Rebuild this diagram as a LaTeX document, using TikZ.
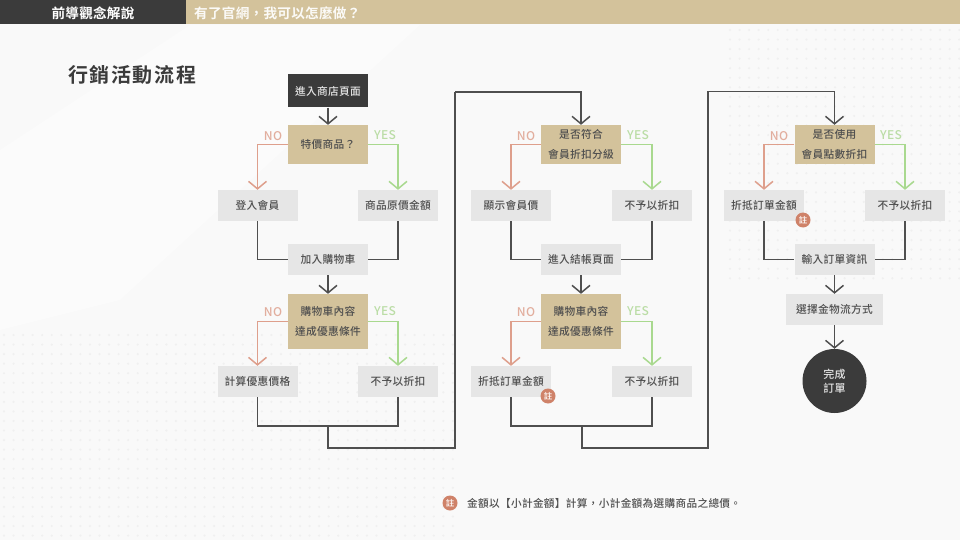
\documentclass[tikz,border=0pt]{standalone}
\usepackage{fontspec}
\usetikzlibrary{arrows.meta}
\setmainfont{Noto Sans CJK TC}
\newfontfamily\boxfont[LetterSpace=3,Script=CJK,Language=Chinese Hong Kong]{Noto Sans CJK TC Medium}
\newfontfamily\headfont[LetterSpace=2,Script=CJK,Language=Chinese Hong Kong]{Noto Sans CJK TC Bold}
\newfontfamily\titlefont[LetterSpace=8,Script=CJK,Language=Chinese Hong Kong]{Noto Sans CJK TC Bold}
\definecolor{darkbox}{HTML}{3B3B3B}
\definecolor{tanbox}{HTML}{D3C29B}
\definecolor{graybox}{HTML}{E6E6E6}
\definecolor{notext}{HTML}{E2AE9E}
\definecolor{noline}{HTML}{DE9F8C}
\definecolor{yestext}{HTML}{BBDDA6}
\definecolor{yesline}{HTML}{A9D98F}
\definecolor{badge}{HTML}{CF8269}
\definecolor{bodytext}{HTML}{4F4F4F}
\tikzset{
    flowbox/.style={minimum width=80pt, inner sep=0pt, align=center, text=bodytext,
        font=\boxfont\fontsize{10.7pt}{19.5pt}\selectfont},
    startbox/.style={flowbox, fill=darkbox, minimum height=33pt, text=white!90!black},
    askbox/.style={flowbox, fill=tanbox, minimum height=39pt},
    askbig/.style={flowbox, fill=tanbox, minimum height=55pt},
    stepbox/.style={flowbox, fill=graybox, minimum height=31pt},
    noteball/.style={circle, fill=badge, minimum size=15pt, inner sep=0pt, text=white,
        font=\boxfont\fontsize{8.5pt}{9pt}\selectfont},
    nolabel/.style={text=notext, font=\boxfont\fontsize{12pt}{13pt}\selectfont},
    yeslabel/.style={text=yestext, font=\boxfont\fontsize{12pt}{13pt}\selectfont},
    flow/.style={draw=darkbox!90, line width=1.5pt},
    flowtip/.style={flow, -{Straight Barb[length=7.5pt, width=18pt, line width=1.5pt]}},
    noarrow/.style={flowtip, draw=noline},
    yesarrow/.style={flowtip, draw=yesline},
}
\begin{document}
\begin{tikzpicture}[x=1pt, y=-1pt]
    \useasboundingbox (0,0) rectangle (960,540);
    % background
    \fill[black!2.5] (0,0) rectangle (960,540);
    \fill[black!1.5] (0,150) -- (190,25) -- (420,25) -- (120,300) -- (0,330) -- cycle;
    \foreach \i in {0,...,47} \foreach \j in {0,...,21}
        \fill[black!6] (4+9.55*\i, 335+9.55*\j) circle (1.2pt);
    \foreach \i in {0,...,24} \foreach \j in {0,...,26}
        \fill[black!6] (730+9.55*\i, 30+9.55*\j) circle (1.2pt);

    % header
    \fill[darkbox] (0,0) rectangle (186,24.5);
    \fill[tanbox] (186,0) rectangle (960,24.5);
    \node[text=white, font=\headfont\fontsize{13.6pt}{14pt}\selectfont] (headleft) at (93,13) {前導觀念解說};
    \node[text=white!92!tanbox, font=\headfont\fontsize{13.6pt}{14pt}\selectfont, anchor=west, inner sep=0pt] (headright) at (194,13) {有了官網，我可以怎麼做？};
    \node[text=darkbox, font=\titlefont\fontsize{20pt}{21pt}\selectfont, anchor=west, inner sep=0pt] (title) at (68,75) {行銷活動流程};

    % first column
    \node[startbox] (enter) at (328,91) {進入商店頁面};
    \node[askbox] (ask1) at (328,144.5) {特價商品？};
    \node[stepbox] (login) at (257.5,205.5) {登入會員};
    \node[stepbox] (origin) at (398,205.5) {商品原價金額};
    \node[stepbox] (cart) at (328,259.5) {加入購物車};
    \node[askbig] (ask2) at (328,321.5) {購物車內容\\達成優惠條件};
    \node[stepbox] (calc) at (257.5,381.5) {計算優惠價格};
    \node[stepbox] (nodisc1) at (398,381.5) {不予以折扣};
    \node[nolabel] (no1) at (273,136) {NO};
    \node[yeslabel] (yes1) at (385,135) {YES};
    \node[nolabel] (no2) at (273,312) {NO};
    \node[yeslabel] (yes2) at (385,311) {YES};
    \coordinate (join1) at (328,426);
    \coordinate (low1) at (455,448);
    \coordinate (high1) at (455,92);

    % second column
    \node[askbox] (ask3) at (581,144.5) {是否符合\\會員折扣分級};
    \node[stepbox] (member) at (511,205.5) {顯示會員價};
    \node[stepbox] (nodisc2) at (652,205.5) {不予以折扣};
    \node[stepbox] (checkout) at (581,259.5) {進入結帳頁面};
    \node[askbig] (ask4) at (581,321.5) {購物車內容\\達成優惠條件};
    \node[stepbox] (deduct1) at (511,381.5) {折抵訂單金額};
    \node[stepbox] (nodisc3) at (652,381.5) {不予以折扣};
    \node[noteball] (note1) at (548,396) {註};
    \node[nolabel] (no3) at (526,136) {NO};
    \node[yeslabel] (yes3) at (638,135) {YES};
    \node[nolabel] (no4) at (526,312) {NO};
    \node[yeslabel] (yes4) at (638,311) {YES};
    \coordinate (join2) at (582,426);
    \coordinate (low2) at (708,448);
    \coordinate (high2) at (708,91.5);

    % third column
    \node[askbox] (ask5) at (834.5,144.5) {是否使用\\會員點數折扣};
    \node[stepbox] (deduct2) at (764,205.5) {折抵訂單金額};
    \node[stepbox] (nodisc4) at (905,205.5) {不予以折扣};
    \node[noteball] (note2) at (803,220) {註};
    \node[stepbox] (info) at (834.5,259.5) {輸入訂單資訊};
    \node[stepbox, minimum width=97pt] (ship) at (834.5,309.5) {選擇金物流方式};
    \node[circle, fill=darkbox, minimum size=64pt, inner sep=0pt, align=center, text=white!90!black, font=\boxfont\fontsize{11pt}{14pt}\selectfont] (done) at (834.5,381) {完成\\訂單};
    \node[nolabel] (no5) at (779,136) {NO};
    \node[yeslabel] (yes5) at (891,135) {YES};

    % arrows of the first column
    \draw[flowtip] (enter) -- (ask1);
    \draw[noarrow] (ask1) -| (login);
    \draw[yesarrow] (ask1) -| (origin);
    \draw[flow] (login) |- (cart);
    \draw[flow] (origin) |- (cart);
    \draw[flowtip] (cart) -- (ask2);
    \draw[noarrow] (ask2) -| (calc);
    \draw[yesarrow] (ask2) -| (nodisc1);
    \draw[flow] (calc) |- (join1) -| (nodisc1);
    \draw[flow] (join1) |- (low1) -- (high1);
    \draw[flowtip] (high1) -| (ask3);

    % arrows of the second column
    \draw[noarrow] (ask3) -| (member);
    \draw[yesarrow] (ask3) -| (nodisc2);
    \draw[flow] (member) |- (checkout);
    \draw[flow] (nodisc2) |- (checkout);
    \draw[flowtip] (checkout) -- (ask4);
    \draw[noarrow] (ask4) -| (deduct1);
    \draw[yesarrow] (ask4) -| (nodisc3);
    \draw[flow] (deduct1) |- (join2) -| (nodisc3);
    \draw[flow] (join2) |- (low2) -- (high2);
    \draw[flowtip] (high2) -| (ask5);

    % arrows of the third column
    \draw[noarrow] (ask5) -| (deduct2);
    \draw[yesarrow] (ask5) -| (nodisc4);
    \draw[flow] (deduct2) |- (info);
    \draw[flow] (nodisc4) |- (info);
    \draw[flowtip] (info) -- (ship);
    \draw[flowtip] (ship) -- (done);

    % footnote
    \node[noteball] (note3) at (450,503) {註};
    \node[anchor=west, inner sep=0pt, text=bodytext, font=\boxfont\fontsize{10.65pt}{11pt}\selectfont] (footnote) at (467,503) {金額以【小計金額】計算，小計金額為選購商品之總價。};
\end{tikzpicture}
\end{document}
